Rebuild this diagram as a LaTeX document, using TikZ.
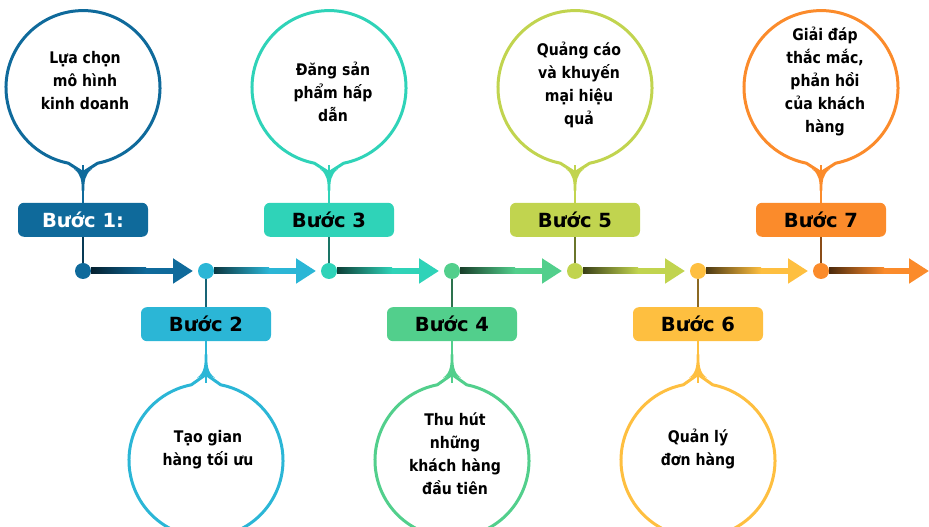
\documentclass[tikz,border=0pt]{standalone}
\usepackage{fontspec}
\setmainfont{DejaVu Sans}
\newfontfamily\bubblefont[FakeStretch=0.88]{DejaVu Sans}
\usepackage{tikz}
\usetikzlibrary{arrows.meta, positioning, calc}
\definecolor{stepblue}{HTML}{0F6A9B}
\definecolor{stepcyan}{HTML}{2BB6D6}
\definecolor{stepteal}{HTML}{2FD3B8}
\definecolor{stepgreen}{HTML}{52CF8C}
\definecolor{steplime}{HTML}{C1D44F}
\definecolor{stepamber}{HTML}{FEBF40}
\definecolor{steporange}{HTML}{FB8B2B}
\tikzstyle{stepbox} = [rectangle, rounded corners=6pt, minimum width=130pt, minimum height=34pt, text centered, text=black, font=\fontsize{19.5}{19.5}\selectfont\bfseries]
\tikzstyle{bubble} = [circle, minimum size=154pt, inner sep=0pt, outer sep=0pt]
\tikzstyle{bubbletext} = [align=center, text=black, font=\bubblefont\fontsize{16}{23}\selectfont\bfseries]
\tikzstyle{dot} = [circle, minimum size=16pt, inner sep=0pt, outer sep=0pt]
\tikzstyle{arrow} = [line width=6pt, -{Triangle[length=20pt, width=24pt]}, shorten >=5pt]
\tikzstyle{outline} = [line width=3pt, line join=round]
\tikzstyle{stem} = [line width=2.5pt]

\begin{document}
\begin{tikzpicture}[x=1pt, y=1pt]
    \path[use as bounding box, clip] (0,0) rectangle (929,527);

    % timeline dots
    \node[dot, fill=stepblue] (d1) at (83,256) {};
    \node[dot, fill=stepcyan, right=107pt of d1] (d2) {};
    \node[dot, fill=stepteal, right=107pt of d2] (d3) {};
    \node[dot, fill=stepgreen, right=107pt of d3] (d4) {};
    \node[dot, fill=steplime, right=107pt of d4] (d5) {};
    \node[dot, fill=stepamber, right=107pt of d5] (d6) {};
    \node[dot, fill=steporange, right=107pt of d6] (d7) {};
    \coordinate (tlend) at (929,256);

    % step labels
    \node[stepbox, fill=stepblue, text=white, above=26pt of d1] (b1) {Bước 1:};
    \node[stepbox, fill=stepcyan, below=28pt of d2] (b2) {Bước 2};
    \node[stepbox, fill=stepteal, above=26pt of d3] (b3) {Bước 3};
    \node[stepbox, fill=stepgreen, below=28pt of d4] (b4) {Bước 4};
    \node[stepbox, fill=steplime, above=26pt of d5] (b5) {Bước 5};
    \node[stepbox, fill=stepamber, below=28pt of d6] (b6) {Bước 6};
    \node[stepbox, fill=steporange, above=26pt of d7] (b7) {Bước 7};

    % bubbles
    \node[bubble, above=38pt of b1] (c1) {};
    \node[bubble, below=42pt of b2] (c2) {};
    \node[bubble, above=38pt of b3] (c3) {};
    \node[bubble, below=42pt of b4] (c4) {};
    \node[bubble, above=38pt of b5] (c5) {};
    \node[bubble, below=42pt of b6] (c6) {};
    \node[bubble, above=38pt of b7] (c7) {};

    \node[bubbletext] (t1) at ([shift={(2,7)}]c1) {Lựa chọn\\mô hình\\kinh doanh};
    \node[bubbletext] (t2) at ([shift={(2,11)}]c2) {Tạo gian\\hàng tối ưu};
    \node[bubbletext] (t3) at ([shift={(4,-4)}]c3) {Đăng sản\\phẩm hấp\\dẫn};
    \node[bubbletext] (t4) at ([shift={(3,7)}]c4) {Thu hút\\những\\khách hàng\\đầu tiên};
    \node[bubbletext] (t5) at ([shift={(4,3)}]c5) {Quảng cáo\\và khuyến\\mại hiệu\\quả};
    \node[bubbletext] (t6) at ([shift={(0,11)}]c6) {Quản lý\\đơn hàng};
    \node[bubbletext] (t7) at ([shift={(4,6)}]c7) {Giải đáp\\thắc mắc,\\phản hồi\\của khách\\hàng};

    % label to bubble
    \draw[stem, stepblue] (b1) -- (c1);
    \draw[stem, stepcyan] (b2) -- (c2);
    \draw[stem, stepteal] (b3) -- (c3);
    \draw[stem, stepgreen] (b4) -- (c4);
    \draw[stem, steplime] (b5) -- (c5);
    \draw[stem, stepamber] (b6) -- (c6);
    \draw[stem, steporange] (b7) -- (c7);

    % bubble outlines, top row
    \draw[outline, stepblue] ($(c1)+(-79:77)$) arc[start angle=-79, end angle=259, radius=77] -- ($(c1)+(0,-85)$) -- cycle;
    \fill[stepblue] ($(c1)+(-9,-81.5)$) to[out=-35, in=90] ($(c1)+(-1.3,-103)$) -- ($(c1)+(1.3,-103)$) to[out=90, in=-145] ($(c1)+(9,-81.5)$) -- ($(c1)+(0,-85)$) -- cycle;
    \draw[outline, stepteal] ($(c3)+(-79:77)$) arc[start angle=-79, end angle=259, radius=77] -- ($(c3)+(0,-85)$) -- cycle;
    \fill[stepteal] ($(c3)+(-9,-81.5)$) to[out=-35, in=90] ($(c3)+(-1.3,-103)$) -- ($(c3)+(1.3,-103)$) to[out=90, in=-145] ($(c3)+(9,-81.5)$) -- ($(c3)+(0,-85)$) -- cycle;
    \draw[outline, steplime] ($(c5)+(-79:77)$) arc[start angle=-79, end angle=259, radius=77] -- ($(c5)+(0,-85)$) -- cycle;
    \fill[steplime] ($(c5)+(-9,-81.5)$) to[out=-35, in=90] ($(c5)+(-1.3,-103)$) -- ($(c5)+(1.3,-103)$) to[out=90, in=-145] ($(c5)+(9,-81.5)$) -- ($(c5)+(0,-85)$) -- cycle;
    \draw[outline, steporange] ($(c7)+(-79:77)$) arc[start angle=-79, end angle=259, radius=77] -- ($(c7)+(0,-85)$) -- cycle;
    \fill[steporange] ($(c7)+(-9,-81.5)$) to[out=-35, in=90] ($(c7)+(-1.3,-103)$) -- ($(c7)+(1.3,-103)$) to[out=90, in=-145] ($(c7)+(9,-81.5)$) -- ($(c7)+(0,-85)$) -- cycle;

    % bubble outlines, bottom row
    \draw[outline, stepcyan] ($(c2)+(101:77)$) arc[start angle=101, end angle=439, radius=77] -- ($(c2)+(0,86)$) -- cycle;
    \fill[stepcyan] ($(c2)+(-9,82.5)$) to[out=35, in=-90] ($(c2)+(-1.3,106)$) -- ($(c2)+(1.3,106)$) to[out=-90, in=145] ($(c2)+(9,82.5)$) -- ($(c2)+(0,86)$) -- cycle;
    \draw[outline, stepgreen] ($(c4)+(101:77)$) arc[start angle=101, end angle=439, radius=77] -- ($(c4)+(0,86)$) -- cycle;
    \fill[stepgreen] ($(c4)+(-9,82.5)$) to[out=35, in=-90] ($(c4)+(-1.3,106)$) -- ($(c4)+(1.3,106)$) to[out=-90, in=145] ($(c4)+(9,82.5)$) -- ($(c4)+(0,86)$) -- cycle;
    \draw[outline, stepamber] ($(c6)+(101:77)$) arc[start angle=101, end angle=439, radius=77] -- ($(c6)+(0,86)$) -- cycle;
    \fill[stepamber] ($(c6)+(-9,82.5)$) to[out=35, in=-90] ($(c6)+(-1.3,106)$) -- ($(c6)+(1.3,106)$) to[out=-90, in=145] ($(c6)+(9,82.5)$) -- ($(c6)+(0,86)$) -- cycle;

    % dot to label
    \draw[stem, stepblue!55!black] (d1) -- (b1);
    \draw[stem, stepcyan!55!black] (d2) -- (b2);
    \draw[stem, stepteal!55!black] (d3) -- (b3);
    \draw[stem, stepgreen!55!black] (d4) -- (b4);
    \draw[stem, steplime!55!black] (d5) -- (b5);
    \draw[stem, stepamber!55!black] (d6) -- (b6);
    \draw[stem, steporange!55!black] (d7) -- (b7);

    % timeline arrows
    \draw[arrow, stepblue] (d1) -- (d2);
    \draw[arrow, stepcyan] (d2) -- (d3);
    \draw[arrow, stepteal] (d3) -- (d4);
    \draw[arrow, stepgreen] (d4) -- (d5);
    \draw[arrow, steplime] (d5) -- (d6);
    \draw[arrow, stepamber] (d6) -- (d7);
    \draw[arrow, steporange, shorten >=0pt] (d7) -- (tlend);
    \shade[left color=stepblue!30!black, right color=stepblue] ($(d1.east)+(0,-3)$) rectangle ($(d1.east)+(55,3)$);
    \shade[left color=stepcyan!30!black, right color=stepcyan] ($(d2.east)+(0,-3)$) rectangle ($(d2.east)+(55,3)$);
    \shade[left color=stepteal!30!black, right color=stepteal] ($(d3.east)+(0,-3)$) rectangle ($(d3.east)+(55,3)$);
    \shade[left color=stepgreen!30!black, right color=stepgreen] ($(d4.east)+(0,-3)$) rectangle ($(d4.east)+(55,3)$);
    \shade[left color=steplime!30!black, right color=steplime] ($(d5.east)+(0,-3)$) rectangle ($(d5.east)+(55,3)$);
    \shade[left color=stepamber!30!black, right color=stepamber] ($(d6.east)+(0,-3)$) rectangle ($(d6.east)+(55,3)$);
    \shade[left color=steporange!30!black, right color=steporange] ($(d7.east)+(0,-3)$) rectangle ($(d7.east)+(55,3)$);
\end{tikzpicture}
\end{document}
